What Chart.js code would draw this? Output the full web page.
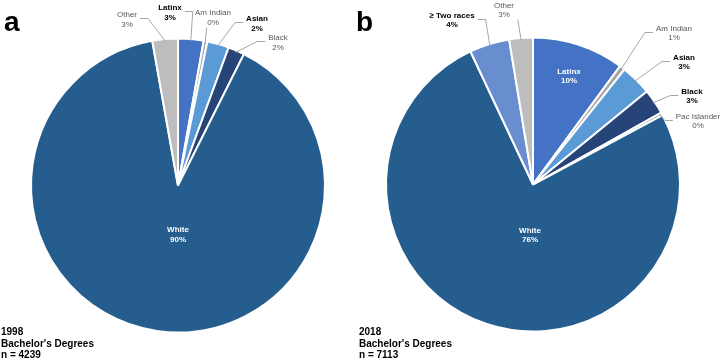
<!DOCTYPE html>
<html>
<head>
<meta charset="utf-8">
<script src="https://cdn.jsdelivr.net/npm/chart.js@4"></script>
<style>
  body { margin: 0; background: #fff; width: 727px; height: 363px; position: relative; overflow: hidden;
         font-family: "Liberation Sans", Arial, sans-serif; }
  .box { position: absolute; top: 0; height: 363px; }
  .tag { position: absolute; font-weight: bold; font-size: 28px; color: #000; line-height: 1; }
  .foot { position: absolute; font-weight: bold; font-size: 10px; line-height: 11.5px; color: #000; }
</style>
</head>
<body>
<div class="box" style="left:0;width:356px"><canvas id="pieA"></canvas></div>
<div class="box" style="left:360px;width:367px"><canvas id="pieB"></canvas></div>
<div class="tag" style="left:4px;top:8px">a</div>
<div class="tag" style="left:356px;top:8px">b</div>
<div class="foot" style="left:1px;top:326px">1998<br>Bachelor's Degrees<br>n = 4239</div>
<div class="foot" style="left:359px;top:326px">2018<br>Bachelor's Degrees<br>n = 7113</div>
<script>
// 1998 bachelor's degrees, share by group (%), clockwise from 12 o'clock
var groupsA = ['Latinx', 'Am Indian', 'Asian', 'Black', 'White', 'Other']
var valuesA = [2.8, 0.4, 2.4, 1.8, 89.8, 2.8]
var colorsA = ['#4472c4', '#a5a5a5', '#5b9bd5', '#264478', '#255e8e', '#bdbdbd']

// 2018
var groupsB = ['Latinx', 'Am Indian', 'Asian', 'Black', 'Pac Islander', 'White', '\u2265 Two races', 'Other']
var valuesB = [10.1, 0.6, 3.4, 2.8, 0.3, 75.9, 4.4, 2.6]
var colorsB = ['#4472c4', '#a5a5a5', '#5b9bd5', '#264478', '#7f7f7f', '#255e8e', '#698ed0', '#bdbdbd']

// label placement (offset from pie centre) and style: in = white inside, b = bold, n = grey
var labelsA = [
    { dx: -8, dy: -178, kind: 'b' },
    { dx: 35, dy: -173, kind: 'n' },
    { dx: 79, dy: -167, kind: 'b' },
    { dx: 100, dy: -148, kind: 'n' },
    { dx: 0, dy: 44, kind: 'in' },
    { dx: -51, dy: -171, kind: 'n' }
]
var labelsB = [
    { dx: 36, dy: -113, kind: 'in' },
    { dx: 141, dy: -156, kind: 'n' },
    { dx: 151, dy: -127, kind: 'b' },
    { dx: 159, dy: -93, kind: 'b' },
    { dx: 165, dy: -68, kind: 'n' },
    { dx: -3, dy: 46, kind: 'in' },
    { dx: -81, dy: -169, kind: 'b' },
    { dx: -29, dy: -179, kind: 'n' }
]

var callouts = {
    id: 'callouts',
    afterDatasetsDraw(chart, args, opts) {
        var ctx = chart.ctx
        var meta = chart.getDatasetMeta(0)
        var names = chart.data.labels
        var vals = chart.data.datasets[0].data
        ctx.save()
        ctx.textAlign = 'center'
        ctx.textBaseline = 'middle'
        meta.data.forEach((arc, i) => {
            var L = opts.spots[i]
            var tx = arc.x + L.dx, ty = arc.y + L.dy
            var pct = Math.round(vals[i]) + '%'
            if (L.kind == 'in') {
                ctx.font = 'bold 8px "Liberation Sans", Arial'
                ctx.fillStyle = '#ffffff'
            } else if (L.kind == 'b') {
                ctx.font = 'bold 8px "Liberation Sans", Arial'
                ctx.fillStyle = '#000000'
            } else {
                ctx.font = '8px "Liberation Sans", Arial'
                ctx.fillStyle = '#595959'
            }
            ctx.fillText(names[i], tx, ty)
            ctx.fillText(pct, tx, ty + opts.gap)
            if (L.kind == 'in') return
            // leader line from the slice edge
            var mid = (arc.startAngle + arc.endAngle) / 2
            var r = arc.outerRadius - 2
            var sx = arc.x + Math.cos(mid) * r, sy = arc.y + Math.sin(mid) * r
            var half = Math.max(ctx.measureText(names[i]).width, ctx.measureText(pct).width) / 2
            ctx.strokeStyle = '#a6a6a6'
            ctx.lineWidth = 1
            ctx.beginPath()
            ctx.moveTo(sx, sy)
            if (Math.abs(tx - sx) < 20) {
                ctx.lineTo(sx + (tx - sx) * 0.2, ty + opts.gap + 5)
            } else {
                var side = tx > sx ? 1 : -1
                var endX = tx - side * (half + 3)
                var ey = ty + 4
                ctx.lineTo(endX - side * 8, ey)
                ctx.lineTo(endX, ey)
            }
            ctx.stroke()
        })
        ctx.restore()
    }
}

function makePie(id, groups, values, colors, spots, pad, gap) {
    var ctx = document.getElementById(id).getContext('2d')
    return new Chart(ctx, {
        type: 'pie',
        data: {
            labels: groups,
            datasets: [{
                data: values,
                backgroundColor: colors,
                borderColor: '#ffffff',
                borderWidth: 2
            }]
        },
        options: {
            responsive: true,
            maintainAspectRatio: false,
            animation: false,
            layout: { padding: pad },
            plugins: {
                legend: { display: false },
                tooltip: { enabled: false },
                callouts: { spots: spots, gap: gap }
            }
        },
        plugins: [callouts]
    })
}

makePie('pieA', groupsA, valuesA, colorsA, labelsA, { left: 30, right: 30, top: 37, bottom: 29 }, 10)
makePie('pieB', groupsB, valuesB, colorsB, labelsB, { left: 25, right: 46, top: 36, bottom: 30 }, 9)
</script>
</body>
</html>
